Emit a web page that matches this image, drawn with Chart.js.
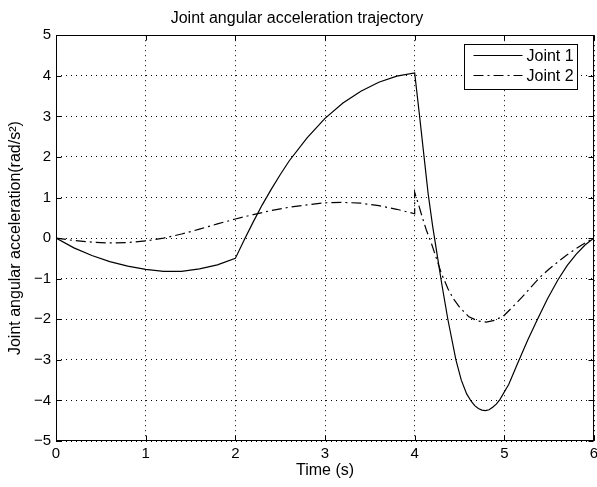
<!DOCTYPE html>
<html>
<head>
<meta charset="utf-8">
<script src="https://cdn.jsdelivr.net/npm/chart.js@4"></script>
<style>
  html, body { margin: 0; padding: 0; background: #fff; }
  #wrap { width: 597px; height: 487px; }
</style>
</head>
<body>
<div id="wrap"><canvas id="chart" width="597" height="487"></canvas></div>
<script>
// values
const time1 = [0, 0.2, 0.4, 0.6, 0.8, 1.0, 1.2, 1.4, 1.6, 1.8, 2.0, 2.1, 2.2, 2.3, 2.4, 2.5, 2.6, 2.8, 3.0, 3.2, 3.4, 3.6, 3.8, 4.0,
  4.05, 4.1, 4.15, 4.2, 4.25, 4.3, 4.37, 4.46, 4.52, 4.58, 4.63, 4.67, 4.71, 4.75, 4.79, 4.83, 4.87, 4.91, 4.95, 5.05, 5.15, 5.26, 5.37, 5.48, 5.6, 5.7, 5.8, 5.9, 6.0];
const joint1 = [0, -0.24, -0.43, -0.58, -0.69, -0.77, -0.82, -0.82, -0.76, -0.66, -0.5, -0.04, 0.4, 0.82, 1.2, 1.56, 1.9, 2.47, 2.95, 3.33, 3.62, 3.84, 3.99, 4.07,
  3.1, 2.1, 1.1, 0.3, -0.4, -1.1, -2.0, -3.0, -3.5, -3.84, -4.02, -4.13, -4.2, -4.24, -4.25, -4.23, -4.17, -4.09, -3.98, -3.6, -3.08, -2.52, -2.0, -1.5, -1.02, -0.68, -0.4, -0.17, 0];

const time2 = [0, 0.2, 0.4, 0.6, 0.8, 1.0, 1.2, 1.4, 1.6, 1.8, 2.0, 2.2, 2.4, 2.6, 2.8, 3.0, 3.2, 3.4, 3.6, 3.8, 4.0, 4.0,
  4.04, 4.08, 4.13, 4.19, 4.25, 4.3, 4.37, 4.43, 4.5, 4.6, 4.7, 4.8, 4.9, 5.0, 5.1, 5.2, 5.3, 5.4, 5.5, 5.6, 5.7, 5.8, 5.9, 6.0];
const joint2 = [0, -0.06, -0.1, -0.12, -0.11, -0.07, 0.0, 0.1, 0.22, 0.35, 0.47, 0.58, 0.68, 0.76, 0.82, 0.87, 0.88, 0.86, 0.8, 0.71, 0.6, 1.13,
  0.85, 0.55, 0.2, -0.15, -0.55, -0.88, -1.24, -1.49, -1.7, -1.93, -2.04, -2.07, -2.02, -1.9, -1.68, -1.45, -1.2, -0.96, -0.76, -0.58, -0.41, -0.26, -0.12, 0];

const seriesLabels = ["Joint 1", "Joint 2"];
const xTicks = [0, 1, 2, 3, 4, 5, 6];
const yTicks = [-5, -4, -3, -2, -1, 0, 1, 2, 3, 4, 5];

const FONT = "'Liberation Sans', Arial, Helvetica, sans-serif";

const toPoints = (xs, ys) => xs.map((x, i) => ({ x: x, y: ys[i] }));
const fmt = (v) => (v < 0 ? "\u2212" + Math.abs(v) : String(v));

// box round the axes, inward ticks and the legend inside the plot
const frame = {
  id: "frame",
  afterDraw(chart) {
    const { ctx, chartArea: a, scales } = chart;
    const l = Math.round(a.left) + 0.5, r = Math.round(a.right) - 0.5;
    const t = Math.round(a.top) + 0.5, b = Math.round(a.bottom) - 0.5;
    ctx.save();
    ctx.strokeStyle = "#000";
    ctx.lineWidth = 1;
    ctx.setLineDash([]);
    ctx.strokeRect(l, t, r - l, b - t);

    ctx.beginPath();
    xTicks.forEach((v) => {
      const px = Math.round(scales.x.getPixelForValue(v)) + 0.5;
      ctx.moveTo(px, b); ctx.lineTo(px, b - 5);
      ctx.moveTo(px, t); ctx.lineTo(px, t + 5);
    });
    yTicks.forEach((v) => {
      const py = Math.round(scales.y.getPixelForValue(v)) + 0.5;
      ctx.moveTo(l, py); ctx.lineTo(l + 5, py);
      ctx.moveTo(r, py); ctx.lineTo(r - 5, py);
    });
    ctx.stroke();

    // legend
    const bx = Math.round(a.right) - 129.5, by = Math.round(a.top) + 9.5;
    const bw = 113, bh = 45;
    ctx.fillStyle = "#fff";
    ctx.fillRect(bx, by, bw, bh);
    ctx.strokeRect(bx, by, bw, bh);
    ctx.font = "16px " + FONT;
    ctx.textBaseline = "middle";
    ctx.textAlign = "left";
    chart.data.datasets.forEach((ds, i) => {
      const ly = by + 11 + i * 20;
      ctx.beginPath();
      ctx.lineWidth = ds.borderWidth;
      ctx.setLineDash(ds.borderDash || []);
      ctx.moveTo(bx + 9, ly);
      ctx.lineTo(bx + 58, ly);
      ctx.stroke();
      ctx.setLineDash([]);
      ctx.fillStyle = "#000";
      ctx.fillText(ds.label, bx + 62, ly + 1);
    });
    ctx.restore();
  }
};

new Chart(document.getElementById("chart"), {
  type: "line",
  data: {
    datasets: [
      {
        label: seriesLabels[0],
        data: toPoints(time1, joint1),
        borderColor: "#000",
        borderWidth: 1.2,
        pointRadius: 0,
        tension: 0,
        fill: false
      },
      {
        label: seriesLabels[1],
        data: toPoints(time2, joint2),
        borderColor: "#000",
        borderWidth: 1.2,
        borderDash: [10, 4, 2, 4],
        pointRadius: 0,
        tension: 0,
        fill: false
      }
    ]
  },
  options: {
    responsive: false,
    animation: false,
    layout: { padding: { left: 0, right: 3, top: 0, bottom: 0 } },
    plugins: {
      legend: { display: false },
      tooltip: { enabled: false },
      title: {
        display: true,
        text: "Joint angular acceleration trajectory",
        color: "#000",
        font: { family: FONT, size: 16, weight: "normal" },
        padding: { top: 9, bottom: 7 }
      }
    },
    scales: {
      x: {
        type: "linear",
        min: 0,
        max: 6,
        afterFit: (s) => { s.height = 46; s.paddingLeft = 0; s.paddingRight = 0; },
        afterBuildTicks: (s) => { s.ticks = xTicks.map((v) => ({ value: v })); },
        ticks: { color: "#000", font: { family: FONT, size: 15 }, padding: 4, maxRotation: 0, autoSkip: false, callback: fmt },
        grid: { color: "#000", lineWidth: 1, drawTicks: false },
        border: { display: false, dash: [1, 4] },
        title: { display: true, text: "Time (s)", color: "#000", font: { family: FONT, size: 16 }, padding: { top: 0, bottom: 7 } }
      },
      y: {
        min: -5,
        max: 5,
        afterFit: (s) => { s.width = 56; },
        afterBuildTicks: (s) => { s.ticks = yTicks.map((v) => ({ value: v })); },
        ticks: { color: "#000", font: { family: FONT, size: 15 }, padding: 5, autoSkip: false, callback: fmt },
        grid: { color: "#000", lineWidth: 1, drawTicks: false },
        border: { display: false, dash: [1, 4] },
        title: { display: true, text: "Joint angular acceleration(rad/s\u00b2)", color: "#000", font: { family: FONT, size: 16 }, padding: { top: 6, bottom: 0 } }
      }
    }
  },
  plugins: [frame]
});
</script>
</body>
</html>
